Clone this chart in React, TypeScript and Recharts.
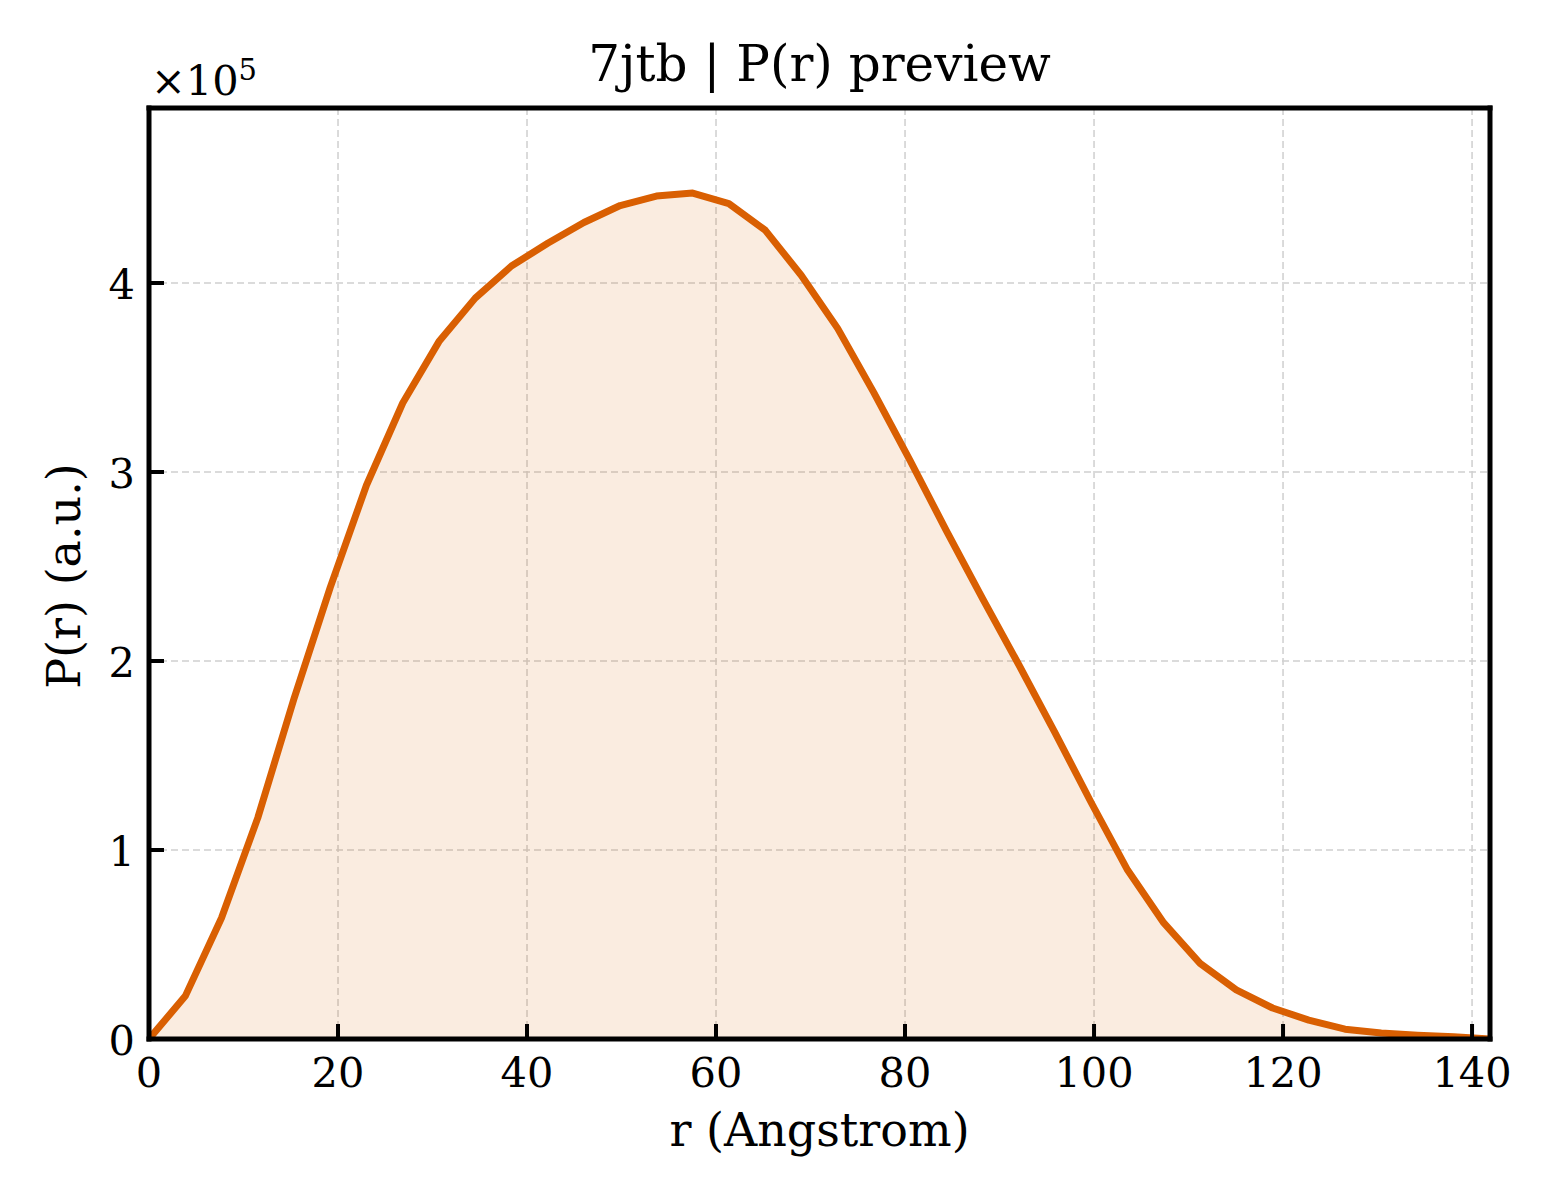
import React from "react";
import {
  ComposedChart,
  Area,
  XAxis,
  YAxis,
  CartesianGrid,
} from "recharts";

// r values (Angstrom)
const rValues = [
  0, 3.84, 7.67, 11.51, 15.34, 19.18, 23.01, 26.85, 30.68, 34.52, 38.35,
  42.19, 46.02, 49.86, 53.69, 57.53, 61.36, 65.2, 69.03, 72.87, 76.7, 80.54,
  84.37, 88.21, 92.04, 95.88, 99.71, 103.55, 107.38, 111.22, 115.05, 118.89,
  122.72, 126.56, 130.39, 134.23, 138.06, 141.9,
];

// P(r) values (a.u.)
const prValues = [
  0, 22700, 64000, 117000, 180000, 239000, 293000, 336500, 369000, 392000,
  409000, 421000, 432000, 441000, 446000, 447600, 442000, 428000, 404000,
  376000, 342000, 306000, 269000, 233000, 198000, 162000, 125000, 89400,
  61400, 40000, 26000, 16400, 10000, 5200, 3200, 2000, 1200, 0,
];

const xTicks = [0, 20, 40, 60, 80, 100, 120, 140];
const yTicks = [0, 100000, 200000, 300000, 400000];

const title = "7jtb | P(r) preview";
const xLabel = "r (Angstrom)";
const yLabel = "P(r) (a.u.)";

const data = rValues.map((r, i) => ({ r, pr: prValues[i] }));

const FONT = "'DejaVu Serif', serif";
const LINE = "#d95f02";
const FILL = "#d95f02";
const TICK_FS = 41.5;
const SPINE_W = 5;
const TICK_W = 4;
const TICK_LEN = 15;

const XTick = (props: any) => {
  const { x, y, payload } = props;
  return (
    <g>
      <line x1={x} y1={y} x2={x} y2={y - TICK_LEN} stroke="#000" strokeWidth={TICK_W} />
      <text
        x={x}
        y={y + 48}
        textAnchor="middle"
        fontFamily={FONT}
        fontSize={TICK_FS}
        fill="#000"
      >
        {payload.value}
      </text>
    </g>
  );
};

const YTick = (props: any) => {
  const { x, y, payload } = props;
  return (
    <g>
      <line x1={x} y1={y} x2={x + TICK_LEN} y2={y} stroke="#000" strokeWidth={TICK_W} />
      <text
        x={x - 14}
        y={y + 16}
        textAnchor="end"
        fontFamily={FONT}
        fontSize={TICK_FS}
        fill="#000"
      >
        {payload.value / 100000}
      </text>
    </g>
  );
};

const W = 1560;
const H = 1200;
const PLOT = { left: 149, right: 1490, top: 108, bottom: 1039 };
const YAXIS_W = 60;
const XAXIS_H = 60;

export default function App() {
  return (
    <div
      style={{
        position: "absolute",
        left: 0,
        top: 0,
        width: W,
        height: H,
        background: "#fff",
      }}
    >
      <ComposedChart
        width={W}
        height={H}
        data={data}
        margin={{
          top: PLOT.top - 1,
          right: W - PLOT.right - 1,
          bottom: H - PLOT.bottom - XAXIS_H,
          left: PLOT.left - YAXIS_W,
        }}
      >
        <CartesianGrid
          stroke="#cfcfcf"
          strokeDasharray="7 4"
          strokeWidth={1.5}
          verticalValues={xTicks}
          horizontalValues={yTicks}
        />
        <Area
          type="linear"
          dataKey="pr"
          stroke={LINE}
          strokeWidth={7}
          strokeLinejoin="round"
          fill={FILL}
          fillOpacity={0.12}
          isAnimationActive={false}
          dot={false}
          activeDot={false}
          baseValue={0}
        />
        <XAxis
          dataKey="r"
          type="number"
          domain={[0, 141.9]}
          ticks={xTicks}
          allowDataOverflow
          height={XAXIS_H}
          tickSize={0}
          tickMargin={0}
          tickLine={false}
          tick={<XTick />}
          axisLine={{ stroke: "#000", strokeWidth: SPINE_W, strokeLinecap: "square" }}
          interval={0}
        />
        <XAxis
          xAxisId="top"
          orientation="top"
          dataKey="r"
          type="number"
          domain={[0, 141.9]}
          height={1}
          tick={false}
          tickLine={false}
          axisLine={{ stroke: "#000", strokeWidth: SPINE_W, strokeLinecap: "square" }}
        />
        <YAxis
          type="number"
          domain={[0, 492600]}
          ticks={yTicks}
          allowDataOverflow
          width={YAXIS_W}
          tickSize={0}
          tickMargin={0}
          tickLine={false}
          tick={<YTick />}
          axisLine={{ stroke: "#000", strokeWidth: SPINE_W, strokeLinecap: "square" }}
          interval={0}
        />
        <YAxis
          yAxisId="right"
          orientation="right"
          type="number"
          domain={[0, 492600]}
          width={1}
          tick={false}
          tickLine={false}
          axisLine={{ stroke: "#000", strokeWidth: SPINE_W, strokeLinecap: "square" }}
        />
        <text
          x={(PLOT.left + PLOT.right) / 2}
          y={81}
          textAnchor="middle"
          fontFamily={FONT}
          fontSize={50}
          fill="#000"
        >
          {title}
        </text>
        <text
          x={(PLOT.left + PLOT.right) / 2}
          y={1146}
          textAnchor="middle"
          fontFamily={FONT}
          fontSize={46}
          fill="#000"
        >
          {xLabel}
        </text>
        <text
          x={80}
          y={576}
          textAnchor="middle"
          fontFamily={FONT}
          fontSize={46}
          fill="#000"
          transform="rotate(-90 80 576)"
        >
          {yLabel}
        </text>
        <text x={151} y={95} fontFamily={FONT} fontSize={41.5} fill="#000">
          ×10
          <tspan fontSize={29} dy={-15}>
            5
          </tspan>
        </text>
      </ComposedChart>
    </div>
  );
}
